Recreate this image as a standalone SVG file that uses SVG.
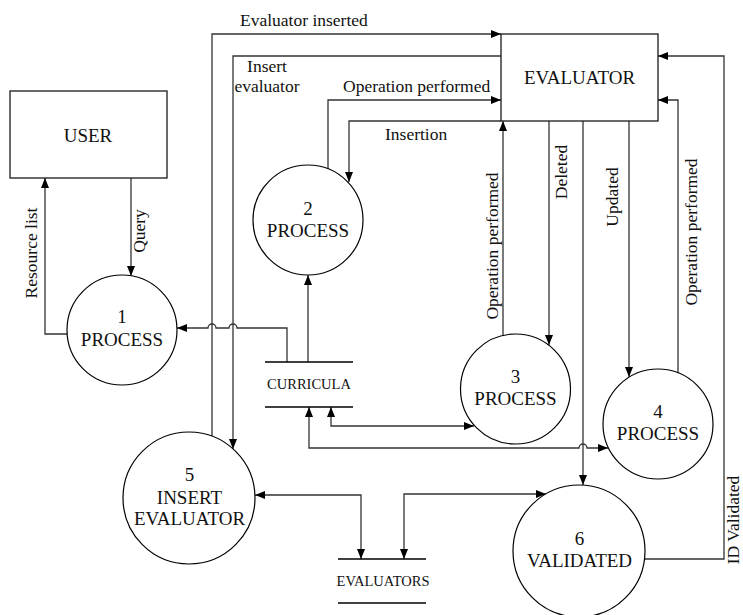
<svg xmlns="http://www.w3.org/2000/svg" width="743" height="615" viewBox="0 0 743 615">
<style>
.bg{fill:#fff}
.box{fill:#fff;stroke:#1a1a1a;stroke-width:1.3}
.circ{fill:#fff;stroke:#000;stroke-width:1.2}
.store{stroke:#000;stroke-width:1.3}
.c{fill:none;stroke:#333;stroke-width:1.3}
.a{marker-end:url(#ah)}
.b{marker-start:url(#ah);marker-end:url(#ah)}
text{font-family:"Liberation Serif","Times New Roman",serif;fill:#111}
.n{font-size:19px;text-anchor:middle}
.l{font-size:17.5px}
.m{text-anchor:middle}
.s{font-size:14.5px;text-anchor:middle}
</style>
<defs>
<marker id="ah" viewBox="0 0 10 8" refX="10" refY="4" markerWidth="10" markerHeight="8" orient="auto-start-reverse" markerUnits="userSpaceOnUse">
<path d="M0,0 L10,4 L0,8 z" fill="#000"/>
</marker>
</defs>
<rect class="bg" x="0" y="0" width="743" height="615"/>

<g id="connectors">
<path class="c a" d="M131,178 V276"/>
<path class="c a" d="M67,334 H45 V178"/>
<path class="c a" d="M287,362 V328 H237 a4,4 0 0 0 -8,0 H216 a4,4 0 0 0 -8,0 H177"/>
<path class="c a" d="M308,362 V275"/>
<path class="c a" d="M328,169 V100 H501"/>
<path class="c a" d="M501,121 H349 V182"/>
<path class="c a" d="M212,436 V34 H501"/>
<path class="c a" d="M501,56 H233 V449"/>
<path class="c a" d="M503,335 V121"/>
<path class="c a" d="M549,121 V345"/>
<path class="c a" d="M583,121 V485"/>
<path class="c a" d="M629,121 V377"/>
<path class="c a" d="M678,373 V100 H658"/>
<path class="c a" d="M645,559 H724 V56 H658"/>
<path class="c b" d="M331,407 V426 H474"/>
<path class="c b" d="M309,407 V448 H579 a4,4 0 0 1 8,0 H608"/>
<path class="c b" d="M255,495 H361 V559"/>
<path class="c b" d="M546,494 H404 V559"/>
</g>

<g id="labels">
<text class="l" x="240" y="26">Evaluator inserted</text>
<text class="l m" x="267" y="72">Insert</text>
<text class="l m" x="267" y="92">evaluator</text>
<text class="l" x="343" y="92">Operation performed</text>
<text class="l" x="385" y="140">Insertion</text>
<text class="l m" transform="translate(37,253) rotate(-90)">Resource list</text>
<text class="l m" transform="translate(145,231) rotate(-90)">Query</text>
<text class="l m" transform="translate(498,246) rotate(-90)">Operation performed</text>
<text class="l m" transform="translate(567,172) rotate(-90)">Deleted</text>
<text class="l m" transform="translate(618,197) rotate(-90)">Updated</text>
<text class="l m" transform="translate(697,232) rotate(-90)">Operation performed</text>
<text class="l m" transform="translate(739,520) rotate(-90)">ID Validated</text>
</g>

<g id="user">
<rect class="box" x="10" y="91" width="157" height="87"/>
<text class="n" x="88" y="142">USER</text>
</g>

<g id="evaluator">
<rect class="box" x="501" y="34" width="157" height="87"/>
<text class="n" x="579.5" y="84">EVALUATOR</text>
</g>

<g id="process1">
<circle class="circ" cx="122" cy="330" r="55"/>
<text class="n" x="122" y="323">1</text>
<text class="n" x="122" y="346">PROCESS</text>
</g>

<g id="process2">
<circle class="circ" cx="308" cy="220" r="55"/>
<text class="n" x="308" y="215">2</text>
<text class="n" x="308" y="237">PROCESS</text>
</g>

<g id="process3">
<circle class="circ" cx="515.5" cy="389" r="55"/>
<text class="n" x="515.5" y="383">3</text>
<text class="n" x="515.5" y="405">PROCESS</text>
</g>

<g id="process4">
<circle class="circ" cx="658" cy="424" r="55"/>
<text class="n" x="658" y="418">4</text>
<text class="n" x="658" y="440">PROCESS</text>
</g>

<g id="process5">
<circle class="circ" cx="189" cy="498" r="66"/>
<text class="n" x="189.5" y="481">5</text>
<text class="n" x="189.5" y="504">INSERT</text>
<text class="n" x="189.5" y="525">EVALUATOR</text>
</g>

<g id="process6">
<circle class="circ" cx="579" cy="551" r="66"/>
<text class="n" x="579.5" y="545">6</text>
<text class="n" x="579.5" y="567">VALIDATED</text>
</g>

<g id="curricula">
<line class="store" x1="265" y1="362" x2="353" y2="362"/>
<line class="store" x1="265" y1="407" x2="353" y2="407"/>
<text class="s" x="309" y="388.5">CURRICULA</text>
</g>

<g id="evaluators">
<line class="store" x1="338" y1="559" x2="426" y2="559"/>
<line class="store" x1="338" y1="603" x2="426" y2="603"/>
<text class="s" x="383" y="586">EVALUATORS</text>
</g>
</svg>
